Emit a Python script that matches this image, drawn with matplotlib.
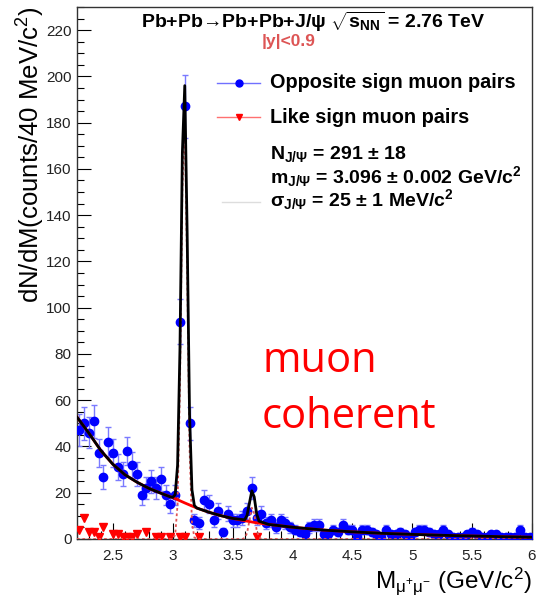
import numpy as np
import matplotlib
matplotlib.use('Agg')
import matplotlib.pyplot as plt
from matplotlib.ticker import MultipleLocator

plt.rcParams['font.family'] = ['Liberation Sans', 'DejaVu Sans']
plt.rcParams['mathtext.fontset'] = 'custom'
plt.rcParams['mathtext.rm'] = 'Liberation Sans'
plt.rcParams['mathtext.it'] = 'Liberation Sans'
plt.rcParams['mathtext.bf'] = 'Liberation Sans:bold'

# opposite sign pairs, 40 MeV bins, centres 2.22 ... 5.98
os_x = 2.22 + 0.04*np.arange(95)
os_y = [47, 50, 46, 51, 37, 27, 42, 37, 31, 28,
        38, 32, 28, 19, 22, 25, 22, 26, 19, 15,
        19, 94, 187, 50, 8, 7, 17, 15, 8, 12,
        3, 11, 8, 8, 9, 12, 22, 9, 11, 7,
        8, 5, 8, 7, 5, 4, 3, 2, 5, 6,
        6, 2, 2, 4, 3, 6, 4, 4, 1, 4,
        4, 3, 2, 1, 4, 2, 2, 3, 2, 1,
        3, 4, 4, 3, 2, 2, 4, 2, 1, 1,
        1, 2, 3, 2, 1, 1, 2, 2, 1, 1,
        1, 1, 4, 1, 1]

# like sign pairs (non empty bins)
ls_x = [2.22, 2.26, 2.30, 2.34, 2.38, 2.42, 2.50, 2.54, 2.58, 2.62,
        2.66, 2.70, 2.78, 2.86, 2.90, 2.98, 3.06, 3.10, 3.22, 3.70]
ls_y = [4, 9, 3, 3, 1, 5, 2, 2, 1, 1,
        1, 2, 3, 1, 1, 1, 1, 1, 1, 1]

# background fit (red)
bkg_x = [2.2, 2.3, 2.4, 2.5, 2.6, 2.7, 2.8, 2.9, 3.0, 3.1, 3.2, 3.3, 3.4, 3.5,
         3.6, 3.7, 3.8, 3.9, 4.0, 4.25, 4.5, 4.75, 5.0, 5.25, 5.5, 5.75, 6.0]
bkg_y = [52.7, 45.7, 38.2, 32.3, 27.8, 24.6, 21.9, 19.8, 17.9, 15.6, 13.4, 11.6, 10.1, 8.9,
         7.9, 7.0, 6.3, 5.7, 5.1, 3.9, 3.1, 2.45, 2.0, 1.6, 1.3, 1.0, 0.75]

# total fit (black)
fit_x = [2.2, 2.3, 2.4, 2.5, 2.6, 2.7, 2.8, 2.9, 2.98, 3.0, 3.02, 3.04, 3.06, 3.08,
         3.10, 3.12, 3.14, 3.16, 3.18, 3.2, 3.3, 3.4, 3.5, 3.6, 3.62, 3.64, 3.66,
         3.68, 3.70, 3.72, 3.8, 3.9, 4.0, 4.25, 4.5, 4.75, 5.0, 5.25, 5.5, 5.75, 6.0]
fit_y = [52.7, 45.7, 38.2, 32.3, 27.8, 24.6, 21.9, 19.8, 18.2, 18.0, 19.2, 31.9, 82.5, 167,
         196, 132, 53.7, 21.3, 14.5, 13.4, 11.6, 10.1, 8.9, 8.3, 10.2, 15.5, 20.8,
         18.2, 11.0, 7.7, 6.3, 5.7, 5.1, 3.9, 3.1, 2.45, 2.0, 1.6, 1.3, 1.0, 0.75]

# signal components (dotted)
sig_x = [2.2, 2.98, 3.0, 3.02, 3.04, 3.06, 3.08, 3.10, 3.12, 3.14, 3.16, 3.18, 3.2,
         3.58, 3.60, 3.62, 3.64, 3.66, 3.68, 3.70, 3.72, 3.74, 6.0]
sig_y = [0, 0, 0.1, 1.8, 15, 66, 151, 181, 117, 39, 7, 0.7, 0,
         0, 0.4, 2.5, 8, 13.5, 11, 4, 0.8, 0, 0]

fig = plt.figure(figsize=(5.37, 5.97), dpi=100)
ax = fig.add_axes([77/537., 1-539/597., 455/537., 532/597.])

os_y = np.array(os_y, dtype=float)
ax.errorbar(os_x, os_y, yerr=np.sqrt(os_y), fmt='none', ecolor='#7a7aff', elinewidth=1,
            capsize=2, capthick=1, zorder=2)
ax.plot(os_x, os_y, 'o', color='#0000ff', ms=6, zorder=3)
ax.plot(ls_x, ls_y, 'v', color='#ff0000', ms=6, zorder=3)

ax.plot(sig_x, sig_y, color='#e05555', lw=1.3, ls=(0, (1.5, 1.5)), zorder=4)
ax.plot(bkg_x, bkg_y, color='#ff0000', lw=2, zorder=5)
ax.plot(fit_x, fit_y, color='black', lw=2, zorder=6)

ax.set_xlim(2.2, 6.0)
ax.set_ylim(0, 230)
ax.xaxis.set_minor_locator(MultipleLocator(0.1))
ax.yaxis.set_major_locator(MultipleLocator(20))
ax.yaxis.set_minor_locator(MultipleLocator(5))
ax.set_xticks([2.5, 3, 3.5, 4, 4.5, 5, 5.5, 6])
ax.set_xticklabels(['2.5', '3', '3.5', '4', '4.5', '5', '5.5', '6'])
ax.tick_params(axis='x', which='major', direction='in', length=11.5, width=0.8, pad=7,
               labelsize=11, labelcolor='#222222')
ax.tick_params(axis='x', which='minor', direction='in', length=5.8, width=0.8)
ax.tick_params(axis='y', which='major', direction='in', length=9.8, width=0.8, pad=4,
               labelsize=11, labelcolor='#222222')
ax.tick_params(axis='y', which='minor', direction='in', length=5, width=0.8)
for s in ax.spines.values():
    s.set_linewidth(1.0)
    s.set_color('#333333')

def fx(px): return (px-77)/455.
def fy(py): return (539-py)/532.

ax.text(fx(313), fy(27.5), 'Pb+Pb\u2192Pb+Pb+J/\u03c8 ' + r'$\sqrt{\mathbf{s}_{\mathbf{NN}}}$ = 2.76 TeV',
        transform=ax.transAxes, ha='center', va='baseline', fontsize=14, fontweight='bold')
ax.text(fx(289), fy(46), '|y|<0.9', transform=ax.transAxes, ha='center', va='baseline',
        fontsize=12.5, fontweight='bold', color='#dd5555')

ax.plot([fx(217), fx(260)], [fy(82.7)]*2, transform=ax.transAxes, color='#7070ff', lw=1, clip_on=False)
ax.plot([fx(239)], [fy(82.7)], 'o', transform=ax.transAxes, color='#0000ff', ms=5)
ax.plot([fx(217), fx(260)], [fy(117.3)]*2, transform=ax.transAxes, color='#ff7070', lw=1)
ax.plot([fx(239)], [fy(117.3)], 'v', transform=ax.transAxes, color='#ff0000', ms=5)
ax.plot([fx(222), fx(260)], [fy(201.7)]*2, transform=ax.transAxes, color='#dddddd', lw=1)

ax.text(fx(270), fy(88.3), 'Opposite sign muon pairs', transform=ax.transAxes,
        va='baseline', fontsize=14.3, fontweight='bold')
ax.text(fx(270), fy(123.3), 'Like sign muon pairs', transform=ax.transAxes,
        va='baseline', fontsize=14.3, fontweight='bold')
ax.text(fx(270), fy(159), r'N$_{\mathbf{J/\Psi}}$ = 291 $\mathbf{\pm}$ 18', transform=ax.transAxes,
        va='baseline', fontsize=14, fontweight='bold')
ax.text(fx(270), fy(183), r'm$_{\mathbf{J/\Psi}}$ = 3.096 $\mathbf{\pm}$ 0.002 GeV/c$^{\mathbf{2}}$', transform=ax.transAxes,
        va='baseline', fontsize=14, fontweight='bold')
ax.text(fx(270), fy(206), r'$\mathbf{\sigma}_{\mathbf{J/\Psi}}$ = 25 $\mathbf{\pm}$ 1 MeV/c$^{\mathbf{2}}$', transform=ax.transAxes,
        va='baseline', fontsize=14, fontweight='bold')

ax.text(fx(262), fy(371.7), 'muon', transform=ax.transAxes, va='baseline',
        fontsize=30, color='#ff0000', family='Open Sans')
ax.text(fx(262), fy(428.3), 'coherent', transform=ax.transAxes, va='baseline',
        fontsize=30, color='#ff0000', family='Open Sans')

ax.text(1.0, fy(588), r'M$_{\mathrm{\mu^{+}\mu^{-}}}$ (GeV/c$^{\mathrm{2}}$)', transform=ax.transAxes,
        ha='right', va='baseline', fontsize=17.5)
ax.text(fx(31), 1.0, r'dN/dM(counts/40 MeV/c$^{\mathrm{2}}$)', transform=ax.transAxes,
        rotation=90, ha='center', va='top', fontsize=18.5)

plt.savefig('out.png', dpi=100)
